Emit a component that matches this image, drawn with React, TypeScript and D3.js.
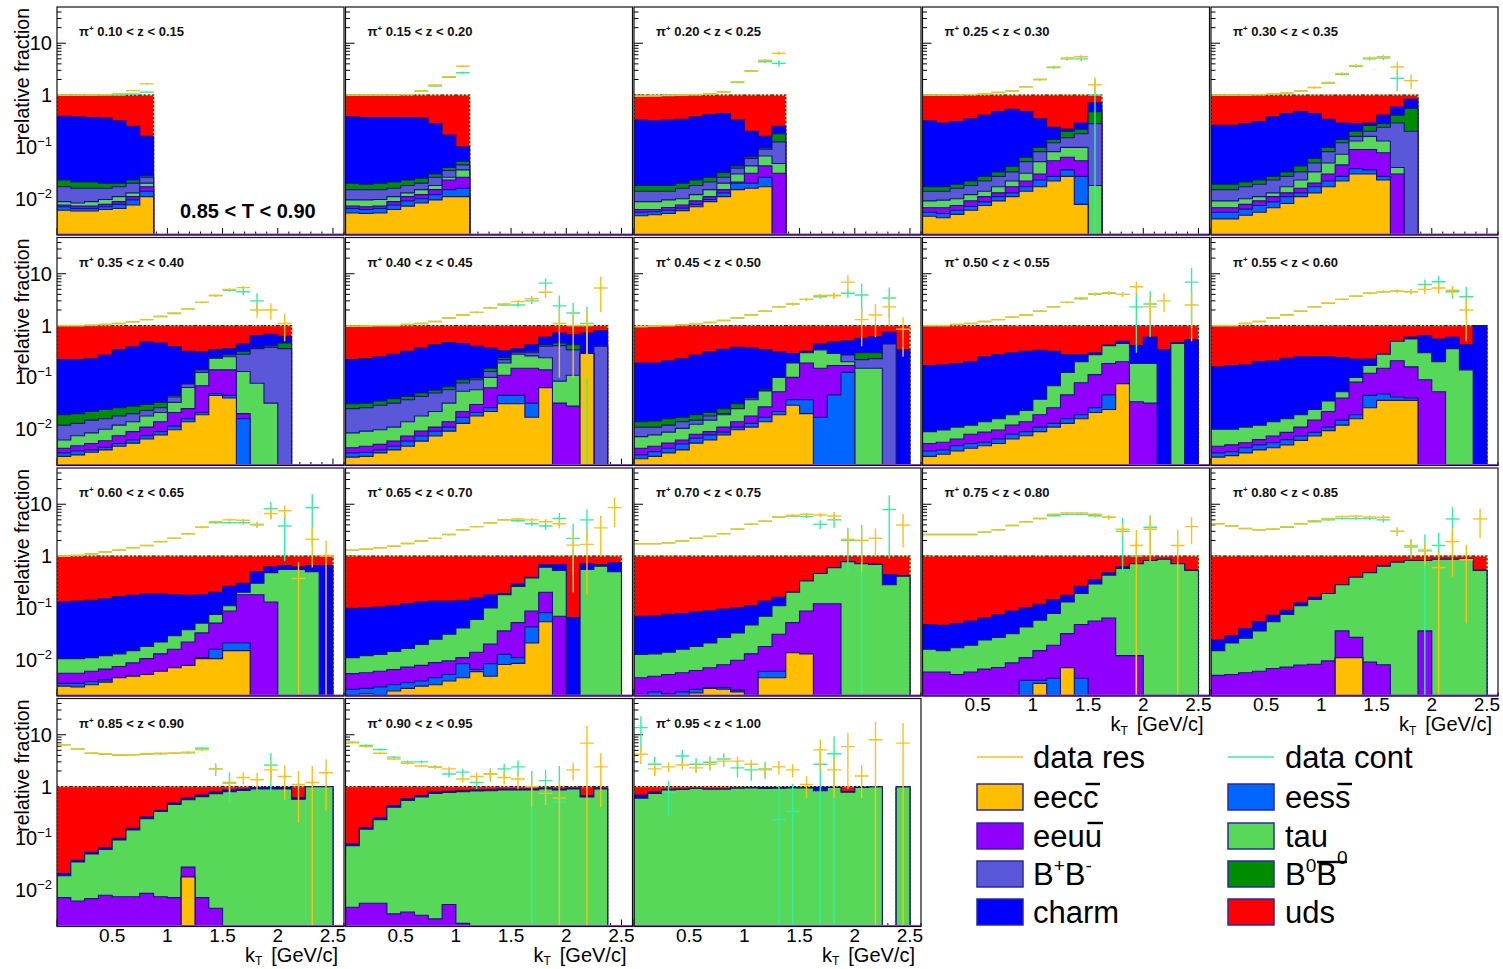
import React from 'react';
import * as d3 from 'd3';

// kT bins are 0.125 GeV/c wide, 20 bins from 0 to 2.5
const BIN = 0.125;

const zLabels = [
  '0.10 < z < 0.15', '0.15 < z < 0.20', '0.20 < z < 0.25', '0.25 < z < 0.30', '0.30 < z < 0.35',
  '0.35 < z < 0.40', '0.40 < z < 0.45', '0.45 < z < 0.50', '0.50 < z < 0.55', '0.55 < z < 0.60',
  '0.60 < z < 0.65', '0.65 < z < 0.70', '0.70 < z < 0.75', '0.75 < z < 0.80', '0.80 < z < 0.85',
  '0.85 < z < 0.90', '0.90 < z < 0.95', '0.95 < z < 1.00',
];

// stacked (cumulative) fraction reached by each sample, per z bin, per kT bin
const udsTop = [
  [1, 1, 1, 1, 1, 1, 1],
  [1, 1, 1, 1, 1, 1, 1, 1, 1],
  [1, 1, 1, 1, 1, 1, 1, 1, 1, 1, 1],
  [1, 1, 1, 1, 1, 1, 1, 1, 1, 1, 1, 1, 1],
  [1, 1, 1, 1, 1, 1, 1, 1, 1, 1, 1, 1, 1, 1, 1],
  [1, 1, 1, 1, 1, 1, 1, 1, 1, 1, 1, 1, 1, 1, 1, 1, 1],
  [1, 1, 1, 1, 1, 1, 1, 1, 1, 1, 1, 1, 1, 1, 1, 1, 1, 1, 1],
  [1, 1, 1, 1, 1, 1, 1, 1, 1, 1, 1, 1, 1, 1, 1, 1, 1, 1, 1, 1],
  [1, 1, 1, 1, 1, 1, 1, 1, 1, 1, 1, 1, 1, 1, 1, 1, 1, 1, 1, 1],
  [1, 1, 1, 1, 1, 1, 1, 1, 1, 1, 1, 1, 1, 1, 1, 1, 1, 1, 1, 1],
  [1, 1, 1, 1, 1, 1, 1, 1, 1, 1, 1, 1, 1, 1, 1, 1, 1, 1, 1, 1],
  [1, 1, 1, 1, 1, 1, 1, 1, 1, 1, 1, 1, 1, 1, 1, 1, 1, 1, 1, 1],
  [1, 1, 1, 1, 1, 1, 1, 1, 1, 1, 1, 1, 1, 1, 1, 1, 1, 1, 1, 1],
  [1, 1, 1, 1, 1, 1, 1, 1, 1, 1, 1, 1, 1, 1, 1, 1, 1, 1, 1, 1],
  [1, 1, 1, 1, 1, 1, 1, 1, 1, 1, 1, 1, 1, 1, 1, 1, 1, 1, 1, 1],
  [1, 1, 1, 1, 1, 1, 1, 1, 1, 1, 1, 1, 1, 1, 1, 1, 1, 1, 1, 1],
  [1, 1, 1, 1, 1, 1, 1, 1, 1, 1, 1, 1, 1, 1, 1, 1, 1, 1, 1],
  [1, 1, 1, 1, 1, 1, 1, 1, 1, 1, 1, 1, 1, 1, 1, 1, 1, 1, 0, 1],
];

const charmTop = [
  [0.39, 0.38, 0.37, 0.36, 0.32, 0.25, 0.16],
  [0.38, 0.37, 0.37, 0.37, 0.37, 0.36, 0.28, 0.17, 0.1],
  [0.33, 0.32, 0.33, 0.34, 0.38, 0.42, 0.44, 0.33, 0.2, 0.16, 0.25],
  [0.32, 0.29, 0.31, 0.35, 0.41, 0.48, 0.53, 0.48, 0.35, 0.24, 0.22, 0.29, 0.71],
  [0.26, 0.26, 0.28, 0.31, 0.38, 0.44, 0.48, 0.44, 0.34, 0.29, 0.28, 0.29, 0.41, 0.59, 0.83],
  [0.22, 0.22, 0.23, 0.27, 0.34, 0.39, 0.48, 0.46, 0.39, 0.32, 0.31, 0.34, 0.36, 0.44, 0.64, 0.68, 0.62],
  [0.22, 0.23, 0.25, 0.28, 0.32, 0.37, 0.43, 0.47, 0.45, 0.4, 0.37, 0.33, 0.36, 0.43, 0.6, 0.72, 0.67, 0.72, 0.8],
  [0.19, 0.19, 0.21, 0.23, 0.27, 0.31, 0.35, 0.38, 0.37, 0.34, 0.31, 0.29, 0.32, 0.44, 0.48, 0.51, 0.57, 0.61, 0.74, 0.34],
  [0.17, 0.175, 0.185, 0.2, 0.25, 0.275, 0.3, 0.32, 0.335, 0.32, 0.275, 0.275, 0.3, 0.42, 0.5, 0.41, 0.6, 0.34, 0.47, 0.53],
  [0.16, 0.17, 0.175, 0.2, 0.21, 0.235, 0.25, 0.25, 0.25, 0.24, 0.225, 0.225, 0.28, 0.43, 0.6, 0.64, 0.55, 0.6, 0.43, 1.0],
  [0.13, 0.135, 0.14, 0.15, 0.165, 0.175, 0.185, 0.185, 0.18, 0.175, 0.18, 0.2, 0.26, 0.3, 0.5, 0.62, 0.66, 0.62, 0.66, 0.66],
  [0.098, 0.1, 0.104, 0.11, 0.12, 0.13, 0.135, 0.135, 0.14, 0.155, 0.18, 0.19, 0.29, 0.39, 0.69, 0.69, 0.065, 0.71, 0.69, 0.74],
  [0.069, 0.07, 0.075, 0.078, 0.083, 0.088, 0.095, 0.1, 0.11, 0.135, 0.16, 0.2, 0.33, 0.46, 0.6, 0.78, 0.72, 0.7, 0.44, 0.42],
  [0.048, 0.046, 0.05, 0.056, 0.064, 0.074, 0.087, 0.1, 0.117, 0.143, 0.175, 0.26, 0.35, 0.48, 0.62, 0.71, 0.82, 0.87, 0.71, 0.53],
  [0.024, 0.029, 0.04, 0.054, 0.072, 0.09, 0.125, 0.16, 0.19, 0.28, 0.39, 0.48, 0.64, 0.76, 0.82, 0.82, 0.87, 0.87, 0.87, 0.53],
  [0.021, 0.038, 0.054, 0.066, 0.1, 0.157, 0.26, 0.35, 0.48, 0.6, 0.69, 0.78, 0.86, 0.9, 0.96, 0.96, 0.96, 0.61, 0.99, 0.99],
  [0.078, 0.16, 0.25, 0.43, 0.58, 0.67, 0.78, 0.81, 0.84, 0.86, 0.87, 0.9, 0.9, 0.9, 0.94, 0.9, 0.94, 0.67, 0.94],
  [0.69, 0.78, 0.88, 0.9, 0.93, 0.9, 0.9, 0.94, 0.95, 0.96, 0.96, 0.95, 0.95, 0.97, 0.97, 0.8, 0.97, 0.98, 0, 0.98],
];

const b0b0Top = [
  [0.023, 0.021, 0.021, 0.02, 0.02, 0.023, 0.028],
  [0.02, 0.019, 0.02, 0.021, 0.023, 0.025, 0.03, 0.04, 0.053],
  [0.018, 0.018, 0.018, 0.02, 0.023, 0.026, 0.032, 0.043, 0.065, 0.096, 0.18],
  [0.017, 0.017, 0.019, 0.022, 0.027, 0.033, 0.042, 0.063, 0.098, 0.14, 0.2, 0.22, 0.48],
  [0.019, 0.019, 0.021, 0.023, 0.027, 0.033, 0.043, 0.06, 0.098, 0.14, 0.2, 0.26, 0.28, 0.41, 0.55],
  [0.019, 0.02, 0.022, 0.024, 0.026, 0.028, 0.03, 0.033, 0.045, 0.075, 0.14, 0.24, 0.28, 0.32, 0.38, 0.41, 0.46],
  [0.031, 0.032, 0.035, 0.039, 0.043, 0.05, 0.057, 0.066, 0.09, 0.098, 0.15, 0.24, 0.31, 0.32, 0.43, 0.46, 0.43, 0.29, 0.4],
  [0.014, 0.0145, 0.016, 0.017, 0.019, 0.021, 0.025, 0.031, 0.041, 0.06, 0.1, 0.19, 0.3, 0.34, 0.29, 0.27, 0.3, 0.3, 0.44, 0],
  [], [], [], [], [], [], [], [], [], [],
];

const bpbmTop = [
  [0.017, 0.016, 0.016, 0.016, 0.017, 0.02, 0.026],
  [0.015, 0.015, 0.015, 0.016, 0.018, 0.02, 0.026, 0.035, 0.045],
  [0.014, 0.014, 0.014, 0.016, 0.018, 0.021, 0.026, 0.039, 0.06, 0.09, 0.125],
  [0.014, 0.014, 0.016, 0.018, 0.022, 0.027, 0.033, 0.052, 0.081, 0.12, 0.15, 0.18, 0.28],
  [0.015, 0.015, 0.017, 0.019, 0.023, 0.027, 0.033, 0.049, 0.081, 0.12, 0.16, 0.2, 0.24, 0.29, 0.2],
  [0.012, 0.013, 0.015, 0.016, 0.018, 0.02, 0.023, 0.026, 0.042, 0.075, 0.14, 0.24, 0.27, 0.28, 0.36, 0.38, 0.36],
  [0.025, 0.026, 0.029, 0.032, 0.037, 0.043, 0.05, 0.058, 0.078, 0.09, 0.13, 0.22, 0.3, 0.3, 0.4, 0.41, 0.34, 0.29, 0.4],
  [0.011, 0.011, 0.012, 0.014, 0.015, 0.018, 0.02, 0.025, 0.04, 0.057, 0.1, 0.19, 0.3, 0.34, 0.29, 0.27, 0.22, 0.23, 0.44, 0],
  [], [], [], [], [], [], [], [], [], [],
];

const tauTop = [
  [0.0088, 0.0083, 0.0088, 0.0097, 0.011, 0.013, 0.02],
  [0.0095, 0.0095, 0.0097, 0.011, 0.013, 0.015, 0.018, 0.026, 0.036],
  [0.0088, 0.0088, 0.0095, 0.01, 0.012, 0.015, 0.02, 0.03, 0.043, 0.067, 0.048],
  [0.0091, 0.0094, 0.01, 0.012, 0.014, 0.017, 0.022, 0.031, 0.052, 0.081, 0.098, 0.098, 0.018],
  [0.0091, 0.0091, 0.01, 0.011, 0.013, 0.017, 0.023, 0.033, 0.049, 0.072, 0.13, 0.16, 0.13, 0.04, 0],
  [0.0062, 0.0075, 0.0085, 0.01, 0.012, 0.014, 0.018, 0.021, 0.033, 0.064, 0.125, 0.235, 0.25, 0.13, 0.077, 0.032, 0],
  [0.0085, 0.0092, 0.0098, 0.011, 0.014, 0.018, 0.022, 0.032, 0.054, 0.058, 0.1, 0.19, 0.28, 0.26, 0.24, 0.085, 0.11, 0.29, 0],
  [0.0072, 0.0078, 0.0088, 0.0104, 0.0125, 0.015, 0.019, 0.025, 0.037, 0.055, 0.1, 0.19, 0.3, 0.34, 0.29, 0.2, 0.15, 0.15, 0, 0],
  [0.009, 0.0097, 0.011, 0.012, 0.014, 0.016, 0.019, 0.023, 0.038, 0.069, 0.125, 0.2, 0.275, 0.41, 0.45, 0.185, 0.185, 0, 0.45, 0],
  [0.01, 0.01, 0.011, 0.012, 0.014, 0.016, 0.019, 0.024, 0.035, 0.053, 0.1, 0.17, 0.28, 0.5, 0.55, 0.3, 0.2, 0.36, 0.14, 0],
  [0.0105, 0.0105, 0.011, 0.012, 0.013, 0.015, 0.018, 0.022, 0.029, 0.038, 0.051, 0.075, 0.11, 0.2, 0.3, 0.48, 0.55, 0.55, 0.5, 0],
  [0.011, 0.012, 0.0126, 0.0144, 0.0165, 0.0197, 0.025, 0.031, 0.041, 0.06, 0.1, 0.18, 0.26, 0.38, 0.61, 0.53, 0, 0.55, 0.64, 0.5],
  [0.0126, 0.013, 0.014, 0.016, 0.018, 0.021, 0.027, 0.033, 0.047, 0.069, 0.11, 0.2, 0.33, 0.46, 0.6, 0.78, 0.71, 0.69, 0.28, 0.41],
  [0.016, 0.015, 0.017, 0.019, 0.024, 0.027, 0.032, 0.043, 0.058, 0.078, 0.13, 0.19, 0.29, 0.43, 0.58, 0.71, 0.82, 0.87, 0.71, 0.53],
  [0.015, 0.021, 0.026, 0.036, 0.054, 0.075, 0.11, 0.145, 0.19, 0.28, 0.39, 0.48, 0.64, 0.76, 0.82, 0.82, 0.87, 0.87, 0.87, 0.53],
  [0.019, 0.035, 0.05, 0.061, 0.093, 0.146, 0.24, 0.33, 0.45, 0.56, 0.64, 0.73, 0.8, 0.84, 0.9, 0.9, 0.9, 0.57, 0.99, 0.99],
  [0.072, 0.15, 0.23, 0.4, 0.54, 0.63, 0.74, 0.77, 0.8, 0.82, 0.83, 0.86, 0.86, 0.86, 0.9, 0.86, 0.9, 0.63, 0.9],
  [0.6, 0.74, 0.86, 0.88, 0.92, 0.89, 0.89, 0.93, 0.94, 0.92, 0.93, 0.94, 0.94, 0.83, 0.96, 0.78, 0.96, 0.98, 0, 0.98],
];

const eeuuTop = [
  [0.0076, 0.0072, 0.0072, 0.0078, 0.0088, 0.011, 0.017],
  [0.0072, 0.007, 0.0072, 0.0088, 0.011, 0.012, 0.015, 0.023, 0.026],
  [0.0062, 0.0062, 0.0068, 0.0076, 0.0091, 0.011, 0.015, 0.021, 0.031, 0.043, 0.031],
  [0.0067, 0.0067, 0.0074, 0.0091, 0.011, 0.013, 0.017, 0.022, 0.03, 0.054, 0.063, 0.054, 0],
  [0.0067, 0.0067, 0.0078, 0.0091, 0.011, 0.013, 0.016, 0.02, 0.03, 0.045, 0.089, 0.089, 0.077, 0.03, 0],
  [0.0043, 0.0048, 0.0053, 0.006, 0.0075, 0.009, 0.011, 0.014, 0.021, 0.025, 0.069, 0.14, 0.14, 0.02, 0, 0, 0],
  [0.0044, 0.0047, 0.0051, 0.0059, 0.0074, 0.0092, 0.011, 0.014, 0.022, 0.03, 0.063, 0.11, 0.15, 0.15, 0.14, 0.032, 0.028, 0.29, 0],
  [0.0043, 0.0047, 0.0054, 0.0062, 0.008, 0.009, 0.011, 0.014, 0.018, 0.027, 0.053, 0.1, 0.19, 0.15, 0.17, 0.17, 0, 0, 0, 0],
  [0.0053, 0.0056, 0.0065, 0.008, 0.0088, 0.0097, 0.012, 0.014, 0.019, 0.026, 0.046, 0.079, 0.113, 0.185, 0.2, 0.034, 0.032, 0, 0, 0],
  [0.0047, 0.005, 0.0055, 0.0063, 0.0074, 0.0087, 0.011, 0.015, 0.022, 0.04, 0.081, 0.12, 0.15, 0.21, 0.16, 0.09, 0.053, 0, 0, 0],
  [0.0055, 0.0055, 0.006, 0.0066, 0.0074, 0.0087, 0.0105, 0.013, 0.016, 0.022, 0.033, 0.051, 0.087, 0.18, 0.18, 0.13, 0, 0, 0, 0],
  [0.0054, 0.0056, 0.006, 0.0065, 0.0072, 0.0078, 0.0088, 0.0095, 0.011, 0.014, 0.02, 0.036, 0.052, 0.087, 0.2, 0.069, 0, 0, 0, 0],
  [0.0045, 0.0048, 0.0052, 0.0056, 0.0062, 0.007, 0.008, 0.0098, 0.013, 0.018, 0.031, 0.052, 0.087, 0.12, 0.12, 0, 0, 0, 0, 0],
  [0.0058, 0.0058, 0.0052, 0.0058, 0.0066, 0.0071, 0.0087, 0.011, 0.015, 0.019, 0.032, 0.048, 0.056, 0.064, 0.012, 0.012, 0, 0, 0, 0],
  [0.005, 0.0052, 0.0056, 0.006, 0.0068, 0.0072, 0.0079, 0.0082, 0.0095, 0.036, 0.027, 0.009, 0.008, 0, 0, 0.036, 0, 0, 0, 0],
  [0.0072, 0.0062, 0.0069, 0.008, 0.0075, 0.0075, 0.0087, 0.0075, 0.0072, 0.028, 0.0072, 0.0045, 0, 0, 0, 0, 0, 0, 0, 0],
  [0.0047, 0.0056, 0.0056, 0.0035, 0.0038, 0.0033, 0.0028, 0.0053, 0.0023, 0, 0, 0, 0, 0, 0, 0, 0, 0, 0],
  [],
];

const eessTop = [
  [0.007, 0.0065, 0.0065, 0.007, 0.0078, 0.0095, 0.014],
  [0.0065, 0.0062, 0.0065, 0.0076, 0.0091, 0.01, 0.012, 0.015, 0.016],
  [0.0055, 0.0056, 0.006, 0.0066, 0.0078, 0.0097, 0.013, 0.02, 0.02, 0.026, 0],
  [0.0055, 0.0052, 0.006, 0.0071, 0.0087, 0.011, 0.013, 0.017, 0.023, 0.027, 0.036, 0.027, 0],
  [0.0055, 0.0055, 0.0063, 0.0074, 0.0087, 0.011, 0.013, 0.017, 0.022, 0.027, 0.038, 0.036, 0.027, 0, 0],
  [0.0035, 0.0038, 0.004, 0.0045, 0.0053, 0.0062, 0.0075, 0.009, 0.0115, 0.016, 0.021, 0.049, 0.045, 0.016, 0, 0, 0],
  [0.0035, 0.0036, 0.004, 0.0047, 0.0059, 0.0074, 0.0092, 0.011, 0.017, 0.021, 0.026, 0.045, 0.045, 0.032, 0.063, 0, 0, 0.29, 0],
  [0.0032, 0.0037, 0.0043, 0.0052, 0.0067, 0.0078, 0.0088, 0.011, 0.013, 0.017, 0.022, 0.037, 0.037, 0.017, 0.046, 0.125, 0, 0, 0, 0],
  [0.0038, 0.004, 0.0048, 0.0053, 0.0056, 0.0065, 0.008, 0.009, 0.011, 0.013, 0.016, 0.019, 0.026, 0.046, 0.076, 0, 0, 0, 0, 0],
  [0.0035, 0.0037, 0.0044, 0.005, 0.0055, 0.0063, 0.0074, 0.0087, 0.011, 0.015, 0.019, 0.045, 0.048, 0.042, 0.04, 0, 0, 0, 0, 0],
  [0.0035, 0.0035, 0.0038, 0.0041, 0.0045, 0.0048, 0.0052, 0.0058, 0.0066, 0.0074, 0.011, 0.016, 0.021, 0.021, 0, 0, 0, 0, 0, 0],
  [0.0027, 0.0028, 0.003, 0.0033, 0.0036, 0.0039, 0.0045, 0.0052, 0.0084, 0.0065, 0.0084, 0.0127, 0.011, 0.043, 0.081, 0, 0, 0, 0, 0],
  [0, 0.0024, 0.0022, 0.0024, 0.0027, 0.0029, 0.0029, 0.0026, 0, 0.006, 0.006, 0.0137, 0.013, 0, 0, 0, 0, 0, 0, 0],
  [0, 0, 0, 0, 0, 0, 0, 0.004, 0.004, 0.0044, 0.007, 0.0044, 0, 0, 0, 0, 0, 0, 0, 0],
  [0, 0, 0, 0, 0, 0, 0, 0, 0, 0.011, 0.011, 0],
  [0, 0, 0, 0, 0, 0, 0, 0, 0, 0.018],
  [],
  [],
];

const eeccTop = [
  [0.006, 0.0058, 0.0058, 0.0062, 0.0065, 0.0076, 0.011],
  [0.0053, 0.0052, 0.0053, 0.0062, 0.0072, 0.0083, 0.0095, 0.011, 0.011],
  [0.0047, 0.0049, 0.0052, 0.0059, 0.007, 0.0088, 0.011, 0.015, 0.016, 0.017, 0],
  [0.0046, 0.0043, 0.005, 0.006, 0.0074, 0.0091, 0.011, 0.014, 0.017, 0.022, 0.027, 0.0078, 0],
  [0.0041, 0.0041, 0.0048, 0.0055, 0.0067, 0.0081, 0.011, 0.013, 0.017, 0.022, 0.03, 0.03, 0.023, 0, 0],
  [0.003, 0.0032, 0.0036, 0.004, 0.0047, 0.0054, 0.0065, 0.0078, 0.0098, 0.014, 0.019, 0.045, 0.04, 0, 0, 0, 0],
  [0.0029, 0.003, 0.0035, 0.004, 0.0047, 0.0059, 0.0074, 0.0092, 0.013, 0.018, 0.022, 0.031, 0.031, 0.017, 0.063, 0, 0, 0.29, 0],
  [0.0027, 0.003, 0.0035, 0.004, 0.0054, 0.0062, 0.0078, 0.0098, 0.011, 0.014, 0.019, 0.029, 0.02, 0, 0, 0, 0, 0, 0, 0],
  [0.003, 0.0033, 0.0038, 0.0043, 0.0048, 0.0053, 0.0065, 0.0075, 0.009, 0.011, 0.013, 0.016, 0.021, 0.024, 0.076, 0, 0, 0, 0, 0],
  [0.0029, 0.0031, 0.0035, 0.004, 0.0044, 0.005, 0.0061, 0.0074, 0.0094, 0.012, 0.016, 0.026, 0.036, 0.036, 0.036, 0, 0, 0, 0, 0],
  [0.0031, 0.003, 0.0033, 0.0037, 0.0045, 0.0048, 0.0052, 0.006, 0.007, 0.0078, 0.0105, 0.0105, 0.015, 0.015, 0, 0, 0, 0, 0, 0],
  [0.0021, 0.0022, 0.0021, 0.0025, 0.0028, 0.0031, 0.0033, 0.0039, 0.0045, 0.0059, 0.0048, 0.0081, 0.0085, 0.021, 0.054, 0, 0, 0, 0, 0],
  [0, 0, 0, 0, 0.0023, 0.0028, 0.0027, 0.0024, 0, 0.0045, 0.0045, 0.0137, 0.013, 0, 0, 0, 0, 0, 0, 0],
  [0, 0, 0, 0, 0, 0, 0, 0, 0.0035, 0, 0.007, 0, 0, 0, 0, 0, 0, 0, 0, 0],
  [0, 0, 0, 0, 0, 0, 0, 0, 0, 0.011, 0.011, 0],
  [0, 0, 0, 0, 0, 0, 0, 0, 0, 0.018],
  [],
  [],
];

// data points (ratio) with errors
const resVal = [
  [1.0, 1.0, 1.0, 1.02, 1.06, 1.22, 1.65],
  [1.0, 1.0, 1.0, 1.0, 1.02, 1.2, 1.56, 2.26, 3.6],
  [0.95, 0.96, 0.98, 1.0, 1.02, 1.05, 1.16, 1.8, 2.95, 4.7, 6.4],
  [1.0, 1.0, 1.0, 1.02, 1.05, 1.12, 1.2, 1.45, 2.0, 3.5, 5.2, 5.5, 1.58],
  [1.0, 1.0, 1.0, 1.02, 1.05, 1.1, 1.2, 1.4, 1.75, 2.6, 3.7, 5.2, 5.5, 3.5, 1.9],
  [1.0, 1.0, 1.02, 1.05, 1.1, 1.18, 1.3, 1.5, 1.75, 2.1, 2.8, 3.8, 5.0, 5.4, 2.0, 2.0, 1.1],
  [0.97, 0.98, 1.0, 1.0, 1.05, 1.1, 1.2, 1.4, 1.6, 1.8, 2.2, 2.6, 2.9, 3.3, 4.4, 1.1, 1.0, 1.0, 5.3],
  [0.96, 0.98, 1.0, 1.03, 1.08, 1.15, 1.25, 1.4, 1.6, 1.9, 2.3, 2.6, 3.2, 3.8, 3.8, 6.9, 1.3, 1.6, 2.3, 0.85],
  [1.0, 1.0, 1.05, 1.1, 1.2, 1.3, 1.45, 1.6, 1.9, 2.3, 2.8, 3.4, 4.1, 4.3, 4.0, 5.6, 2.3, 3.0, 0, 2.5],
  [1.0, 1.0, 1.1, 1.2, 1.4, 1.6, 1.9, 2.3, 2.7, 3.2, 3.7, 4.2, 4.5, 4.6, 4.5, 5.0, 5.3, 4.8, 2.0, 0],
  [1.0, 1.03, 1.1, 1.2, 1.3, 1.45, 1.6, 1.9, 2.2, 2.7, 3.6, 4.6, 5.0, 4.9, 4.1, 6.6, 7.5, 0.37, 2.1, 1.0],
  [1.3, 1.35, 1.45, 1.55, 1.75, 1.95, 2.2, 2.6, 3.2, 3.7, 4.4, 5.0, 5.2, 5.0, 4.6, 4.2, 1.63, 1.68, 3.5, 8.6],
  [1.73, 1.73, 1.8, 1.95, 2.2, 2.4, 2.7, 3.3, 4.1, 4.7, 5.7, 6.1, 6.4, 6.2, 5.9, 2.1, 2.0, 2.2, 0, 3.96],
  [2.6, 2.6, 2.6, 2.6, 2.9, 3.2, 3.9, 4.6, 5.3, 6.4, 6.8, 6.8, 6.4, 5.6, 3.3, 1.6, 3.3, 0, 1.6, 3.7],
  [4.2, 3.8, 3.4, 3.2, 3.3, 3.7, 4.2, 4.8, 5.3, 5.8, 5.9, 5.7, 5.6, 3.0, 1.6, 1.25, 0.6, 1.9, 0.85, 5.2],
  [6.4, 5.3, 4.4, 4.3, 4.1, 4.1, 4.3, 4.4, 4.4, 4.6, 5.1, 2.2, 1.16, 1.5, 1.35, 2.1, 1.56, 1.1, 1.2, 1.85],
  [7.0, 5.9, 4.4, 3.4, 2.8, 2.5, 2.36, 2.2, 1.4, 1.56, 1.75, 1.5, 1.4, 1.0, 0.74, 0.6, 2.1, 6.9, 2.4],
  [4.2, 2.2, 2.4, 2.6, 2.3, 2.7, 3.1, 3.1, 2.7, 2.1, 2.4, 2.1, 1.1, 5.1, 2.1, 5.9, 1.6, 8.0, 0, 6.9],
];

const resErr = [
  [0.01, 0.01, 0.01, 0.01, 0.02, 0.03, 0.05],
  [0.01, 0.01, 0.01, 0.01, 0.02, 0.03, 0.05, 0.08, 0.15],
  [0.01, 0.01, 0.01, 0.01, 0.02, 0.02, 0.04, 0.06, 0.12, 0.25, 0.45],
  [0.01, 0.01, 0.01, 0.01, 0.02, 0.02, 0.03, 0.05, 0.08, 0.2, 0.35, 0.5, 0.6],
  [0.01, 0.01, 0.01, 0.01, 0.02, 0.02, 0.03, 0.05, 0.07, 0.12, 0.25, 0.4, 0.5, 0.9, 0.6],
  [0.01, 0.01, 0.01, 0.02, 0.02, 0.02, 0.03, 0.04, 0.05, 0.07, 0.1, 0.15, 0.25, 0.4, 0.6, 0.7, 0.6],
  [0.01, 0.01, 0.01, 0.02, 0.02, 0.02, 0.03, 0.04, 0.05, 0.07, 0.1, 0.12, 0.2, 0.4, 1.0, 1.0, 0.9, 0.9, 3.5],
  [0.01, 0.01, 0.01, 0.02, 0.02, 0.03, 0.03, 0.04, 0.05, 0.07, 0.1, 0.15, 0.2, 0.3, 0.5, 2.5, 0.9, 1.0, 1.3, 0.6],
  [0.01, 0.01, 0.02, 0.02, 0.02, 0.03, 0.04, 0.05, 0.06, 0.08, 0.1, 0.15, 0.25, 0.3, 0.4, 1.5, 1.2, 1.2, 0, 2.0],
  [0.01, 0.01, 0.02, 0.02, 0.03, 0.03, 0.04, 0.05, 0.07, 0.09, 0.12, 0.18, 0.25, 0.35, 0.5, 1.0, 1.2, 1.0, 1.5, 0],
  [0.02, 0.02, 0.02, 0.02, 0.03, 0.03, 0.04, 0.05, 0.07, 0.1, 0.15, 0.2, 0.25, 0.35, 0.5, 1.5, 2.0, 0.4, 1.5, 1.0],
  [0.02, 0.02, 0.02, 0.03, 0.03, 0.04, 0.05, 0.07, 0.1, 0.12, 0.15, 0.2, 0.3, 0.4, 0.6, 0.8, 1.2, 1.5, 2.5, 5.0],
  [0.02, 0.02, 0.03, 0.03, 0.04, 0.05, 0.06, 0.08, 0.1, 0.15, 0.2, 0.25, 0.35, 0.5, 1.2, 1.0, 1.5, 1.2, 0, 2.5],
  [0.04, 0.04, 0.04, 0.05, 0.06, 0.08, 0.1, 0.12, 0.15, 0.2, 0.25, 0.3, 0.4, 0.5, 0.8, 1.6, 2.5, 0, 1.6, 2.0],
  [0.08, 0.08, 0.08, 0.08, 0.1, 0.1, 0.12, 0.15, 0.2, 0.25, 0.3, 0.4, 0.6, 0.6, 0.5, 0.6, 0.6, 1.5, 0.8, 3.0],
  [0.15, 0.12, 0.1, 0.1, 0.1, 0.1, 0.12, 0.12, 0.15, 0.2, 0.3, 0.4, 0.4, 0.4, 0.5, 0.8, 1.0, 0.9, 1.3, 1.5],
  [0.25, 0.2, 0.2, 0.15, 0.15, 0.15, 0.15, 0.2, 0.2, 0.3, 0.4, 0.4, 0.5, 0.6, 0.3, 0.7, 0.8, 8.0, 2.0],
  [1.5, 0.6, 0.5, 0.5, 0.5, 0.6, 0.6, 0.7, 0.6, 0.5, 0.7, 0.6, 0.5, 3.0, 1.5, 5.0, 1.0, 10, 0, 10],
];

const contVal = [
  [1.0, 1.0, 1.0, 1.0, 1.0, 1.05, 1.14],
  [1.0, 1.0, 1.0, 1.0, 1.02, 1.2, 1.5, 2.2, 2.7],
  [0.96, 0.97, 1.0, 1.0, 1.02, 1.05, 1.15, 1.75, 2.9, 4.4, 4.1],
  [1.0, 1.0, 1.0, 1.02, 1.05, 1.12, 1.2, 1.45, 2.0, 3.4, 5.0, 5.0, 1.0],
  [1.0, 1.0, 1.0, 1.02, 1.05, 1.1, 1.2, 1.4, 1.7, 2.5, 3.6, 5.0, 5.2, 2.1, 0],
  [1.0, 1.0, 1.02, 1.05, 1.1, 1.18, 1.3, 1.5, 1.7, 2.1, 2.8, 3.8, 4.8, 4.5, 3.0, 0, 0],
  [0.97, 0.98, 1.0, 1.0, 1.05, 1.1, 1.2, 1.4, 1.6, 1.8, 2.2, 2.5, 2.5, 3.0, 6.6, 2.4, 1.75, 1.1, 0],
  [0.96, 0.98, 1.0, 1.03, 1.08, 1.15, 1.25, 1.4, 1.6, 1.9, 2.3, 2.6, 3.2, 3.6, 3.8, 4.2, 3.9, 0, 3.4, 0],
  [1.0, 1.0, 1.05, 1.1, 1.2, 1.3, 1.45, 1.6, 1.9, 2.3, 2.8, 3.3, 4.0, 4.2, 4.0, 2.3, 2.6, 0, 0, 6.9],
  [1.0, 1.0, 1.1, 1.2, 1.4, 1.6, 1.9, 2.3, 2.7, 3.2, 3.7, 4.2, 4.5, 4.6, 4.5, 6.2, 7.0, 4.5, 3.6, 0],
  [1.0, 1.03, 1.1, 1.2, 1.3, 1.45, 1.6, 1.9, 2.2, 2.7, 3.6, 4.4, 4.4, 4.4, 4.0, 8.2, 3.8, 0, 8.6, 0],
  [1.3, 1.35, 1.45, 1.55, 1.75, 1.95, 2.2, 2.6, 3.2, 3.7, 4.4, 5.0, 4.8, 4.2, 3.8, 5.3, 2.2, 5.0, 0, 0],
  [1.73, 1.73, 1.8, 1.95, 2.2, 2.4, 2.7, 3.3, 4.1, 4.7, 5.6, 5.9, 5.8, 4.1, 5.0, 2.0, 2.0, 0, 7.9, 0],
  [2.6, 2.6, 2.6, 2.6, 2.9, 3.2, 3.9, 4.6, 5.3, 6.0, 6.4, 6.4, 6.0, 5.6, 3.0, 1.0, 3.6, 0, 0, 0],
  [4.2, 3.8, 3.4, 3.2, 3.3, 3.6, 4.2, 4.6, 5.0, 5.3, 5.3, 5.3, 5.0, 3.0, 1.5, 1.3, 1.6, 5.2, 0, 0],
  [6.4, 5.3, 4.4, 4.2, 4.0, 4.1, 4.2, 4.3, 4.4, 4.5, 5.5, 2.2, 1.2, 0, 0, 2.6, 0, 0, 0, 0],
  [7.2, 6.2, 5.2, 3.7, 3.0, 3.0, 2.4, 1.75, 1.9, 1.2, 1.75, 2.2, 2.4, 1.0, 1.3, 0.5, 0, 0, 0],
  [13.7, 2.7, 0.78, 3.9, 2.7, 2.95, 3.4, 2.3, 2.1, 2.2, 0.23, 0.33, 0, 2.7, 4.3, 0, 0, 0, 0, 0],
];

const contErr = [
  [0.01, 0.01, 0.01, 0.01, 0.02, 0.03, 0.05],
  [0.01, 0.01, 0.01, 0.01, 0.02, 0.03, 0.05, 0.08, 0.15],
  [0.01, 0.01, 0.01, 0.01, 0.02, 0.02, 0.04, 0.06, 0.12, 0.3, 0.6],
  [0.01, 0.01, 0.01, 0.01, 0.02, 0.02, 0.03, 0.05, 0.08, 0.2, 0.35, 0.5, 1.0],
  [0.01, 0.01, 0.01, 0.01, 0.02, 0.02, 0.03, 0.05, 0.07, 0.12, 0.25, 0.4, 0.5, 0.9, 0],
  [0.01, 0.01, 0.01, 0.02, 0.02, 0.02, 0.03, 0.04, 0.05, 0.07, 0.1, 0.15, 0.3, 0.7, 1.2, 0, 0],
  [0.01, 0.01, 0.01, 0.02, 0.02, 0.02, 0.03, 0.04, 0.05, 0.07, 0.1, 0.12, 0.25, 0.4, 1.5, 1.4, 1.0, 1.2, 0],
  [0.01, 0.01, 0.01, 0.02, 0.02, 0.03, 0.03, 0.04, 0.05, 0.07, 0.1, 0.15, 0.2, 0.3, 0.5, 0.8, 2.5, 0, 2.0, 0],
  [0.01, 0.01, 0.02, 0.02, 0.02, 0.03, 0.04, 0.05, 0.06, 0.08, 0.1, 0.15, 0.25, 0.3, 0.4, 2.0, 2.0, 0, 0, 6.0],
  [0.01, 0.01, 0.02, 0.02, 0.03, 0.03, 0.04, 0.05, 0.07, 0.09, 0.12, 0.18, 0.25, 0.35, 0.5, 1.5, 2.0, 1.2, 2.0, 0],
  [0.02, 0.02, 0.02, 0.02, 0.03, 0.03, 0.04, 0.05, 0.07, 0.1, 0.15, 0.2, 0.25, 0.35, 0.5, 3.0, 3.0, 0, 7.0, 0],
  [0.02, 0.02, 0.02, 0.03, 0.03, 0.04, 0.05, 0.07, 0.1, 0.12, 0.15, 0.2, 0.3, 0.4, 0.6, 1.5, 2.0, 3.0, 0, 0],
  [0.02, 0.02, 0.03, 0.03, 0.04, 0.05, 0.06, 0.08, 0.1, 0.15, 0.2, 0.25, 0.35, 0.8, 1.5, 1.5, 2.0, 0, 7.0, 0],
  [0.04, 0.04, 0.04, 0.05, 0.06, 0.08, 0.1, 0.12, 0.15, 0.2, 0.25, 0.3, 0.4, 0.5, 2.5, 1.0, 2.5, 0, 0, 0],
  [0.08, 0.08, 0.08, 0.08, 0.1, 0.1, 0.12, 0.15, 0.2, 0.25, 0.3, 0.4, 0.6, 0.5, 0.6, 1.3, 1.2, 3.5, 0, 0],
  [0.15, 0.12, 0.1, 0.1, 0.1, 0.1, 0.12, 0.12, 0.15, 0.2, 0.3, 0.6, 0.7, 0, 0, 1.8, 0, 0, 0, 0],
  [0.3, 0.25, 0.25, 0.2, 0.2, 0.2, 0.2, 0.25, 0.3, 0.3, 0.5, 0.6, 0.8, 1.0, 0.8, 2.0, 0, 0, 0],
  [9, 1.0, 0.5, 1.2, 0.8, 0.9, 1.0, 0.8, 0.8, 0.8, 0.8, 0.8, 0, 3, 5, 0, 0, 0, 0, 0],
];

const yTickVals = [0.01, 0.1, 1, 10];
const xTickVals = [0.5, 1, 1.5, 2, 2.5];
const xTickLabels = ['0.5', '1', '1.5', '2', '2.5'];

const FONT = "'Liberation Sans', Arial, Helvetica, sans-serif";
const W = 287;
const H = 228;
const colX = [57, 345.5, 634, 922.5, 1211];
const rowY = [7, 237.5, 468, 698.5];
const NAVY = '#15157c';
const RES = '#ffbf1a';
const CONT = '#33eea0';

const layers = [
  { key: 'uds', data: udsTop, color: '#ff0000' },
  { key: 'charm', data: charmTop, color: '#0000ff' },
  { key: 'b0b0', data: b0b0Top, color: '#008c00' },
  { key: 'bpbm', data: bpbmTop, color: '#5a58d8' },
  { key: 'tau', data: tauTop, color: '#58d858' },
  { key: 'eeuu', data: eeuuTop, color: '#8f00ff' },
  { key: 'eess', data: eessTop, color: '#0066ff' },
  { key: 'eecc', data: eeccTop, color: '#ffbe00' },
];

function stepPath(vals: number[], x: any, y: any) {
  let d = '';
  let i = 0;
  while (i < vals.length) {
    if (!(vals[i] > 0)) { i++; continue; }
    let j = i;
    let seg = `M${x(i * BIN)},${H}`;
    while (j < vals.length && vals[j] > 0) {
      const yy = y(vals[j]);
      seg += `L${x(j * BIN)},${yy}L${x((j + 1) * BIN)},${yy}`;
      j++;
    }
    seg += `L${x(j * BIN)},${H}`;
    d += seg;
    i = j;
  }
  return d;
}

function Panel({ p }: { p: number }) {
  const col = p % 5;
  const row = Math.floor(p / 5);
  const left = colX[col];
  const top = rowY[row];
  const x = d3.scaleLinear().domain([0, 2.6]).range([0, W]);
  const y = d3.scaleLog().domain([0.002, 50]).range([H, 0]).clamp(true);

  const minor: number[] = [];
  [0.001, 0.01, 0.1, 1, 10].forEach((b) => {
    for (let k = 2; k <= 9; k++) {
      const v = k * b;
      if (v > 0.002 && v < 50) minor.push(v);
    }
  });
  const xt: number[] = d3.range(0, 27).map((i) => i / 10);

  const crosses = (vals: number[], errs: number[], color: string, tag: string) =>
    vals.map((v, i) => {
      if (!(v > 0)) return null;
      const e = errs[i] || 0;
      const yv = y(v);
      const lo = v - e > 0.002 ? y(v - e) : H;
      const cx = x((i + 0.5) * BIN);
      return (
        <g key={tag + i}>
          <line x1={x(i * BIN)} x2={x((i + 1) * BIN)} y1={yv} y2={yv} stroke={color} strokeWidth={1.4} />
          <line x1={cx} x2={cx} y1={y(v + e)} y2={lo} stroke={color} strokeWidth={1.4} />
        </g>
      );
    });

  const showX = p + 5 >= 18;
  const clipId = `clip${p}`;

  return (
    <g transform={`translate(${left},${top})`}>
      <defs>
        <clipPath id={clipId}>
          <rect x={0} y={0} width={W} height={H} />
        </clipPath>
      </defs>
      <rect x={0} y={0} width={W} height={H} fill="#fff" />
      {yTickVals.map((v) => (
        <line key={'ym' + v} x1={0} x2={9} y1={y(v)} y2={y(v)} stroke="#000" strokeWidth={1} />
      ))}
      {minor.map((v) => (
        <line key={'yn' + v} x1={0} x2={4.5} y1={y(v)} y2={y(v)} stroke="#000" strokeWidth={1} />
      ))}
      {xt.map((v, i) => (
        <line key={'xt' + i} x1={x(v)} x2={x(v)} y1={H} y2={H - (i % 5 === 0 ? 7 : 3.5)} stroke="#000" strokeWidth={1} />
      ))}
      <g clipPath={`url(#${clipId})`}>
        {layers.map((L) => {
          const vals = L.data[p] || [];
          const d = stepPath(vals, x, y);
          if (!d) return null;
          return (
            <g key={L.key}>
              <path d={d + 'Z'} fill={L.color} stroke="none" />
              {L.key === 'uds' ? (
                <g>
                  <path d={d} fill="none" stroke="#f2c200" strokeWidth={1.3} />
                  <path d={d} fill="none" stroke={NAVY} strokeWidth={1.3} strokeDasharray="2,2" />
                </g>
              ) : (
                <path d={d} fill="none" stroke={NAVY} strokeWidth={1.1} />
              )}
            </g>
          );
        })}
        {crosses(contVal[p], contErr[p], CONT, 'c')}
        {crosses(resVal[p], resErr[p], RES, 'r')}
      </g>
      <line x1={0} x2={W} y1={H - 0.5} y2={H - 0.5} stroke="#9a3cff" strokeWidth={2} />
      <rect x={0} y={0} width={W} height={H} fill="none" stroke="#111" strokeWidth={1.2} />
      <text x={22} y={29} fontFamily={FONT} fontSize={13} fontWeight="bold" fill="#111">
        π<tspan dy={-5} fontSize={8}>+</tspan>
        <tspan dy={5}>{' ' + zLabels[p]}</tspan>
      </text>
      {p === 0 && (
        <text x={123} y={211} fontFamily={FONT} fontSize={20} fontWeight="bold" fill="#000">
          0.85 &lt; T &lt; 0.90
        </text>
      )}
      {col === 0 &&
        yTickVals.map((v) => {
          const yy = y(v) + 7;
          if (v === 10) return <text key={'yl' + v} x={-5} y={yy} textAnchor="end" fontFamily={FONT} fontSize={20}>10</text>;
          if (v === 1) return <text key={'yl' + v} x={-5} y={yy} textAnchor="end" fontFamily={FONT} fontSize={20}>1</text>;
          return (
            <text key={'yl' + v} x={-5} y={yy} textAnchor="end" fontFamily={FONT} fontSize={20}>
              10<tspan dy={-8} fontSize={13}>{v === 0.1 ? '−1' : '−2'}</tspan>
            </text>
          );
        })}
      {col === 0 && (
        <text transform={`translate(${29 - left},1) rotate(-90)`} textAnchor="end" fontFamily={FONT} fontSize={19.5}>
          relative fraction
        </text>
      )}
      {showX &&
        xTickVals.map((v, i) => (
          <text key={'xl' + i} x={x(v)} y={H + 15} textAnchor="middle" fontFamily={FONT} fontSize={19}>
            {xTickLabels[i]}
          </text>
        ))}
      {showX && (
        <text x={W - 6} y={H + 35} textAnchor="end" fontFamily={FONT} fontSize={20}>
          k<tspan dy={3.5} fontSize={12}>T</tspan>
          <tspan dy={-3.5} dx={9}>[GeV/c]</tspan>
        </text>
      )}
    </g>
  );
}

function Legend() {
  const fs = 31;
  const box = (x: number, cy: number, color: string) => (
    <rect x={x} y={cy - 13} width={46} height={26} fill={color} stroke="#2a2aa0" strokeWidth={1.5} />
  );
  const t = (x: number, cy: number, content: any) => (
    <text x={x} y={cy + 11} fontFamily={FONT} fontSize={fs} fill="#000">{content}</text>
  );
  const c1 = 977, c2 = 1228, t1 = 1033, t2 = 1285;
  const rows = [757, 797, 836, 874, 912];
  return (
    <g>
      <line x1={c1} x2={c1 + 46} y1={rows[0]} y2={rows[0]} stroke={RES} strokeWidth={1.6} />
      {t(t1, rows[0], 'data res')}
      <line x1={c2} x2={c2 + 46} y1={rows[0]} y2={rows[0]} stroke={CONT} strokeWidth={1.6} />
      {t(t2, rows[0], 'data cont')}

      {box(c1, rows[1], '#ffbe00')}
      {t(t1, rows[1], 'eecc')}
      <line x1={t1 + 52.5} x2={t1 + 67} y1={rows[1] - 13} y2={rows[1] - 13} stroke="#000" strokeWidth={2.4} />
      {box(c2, rows[1], '#0066ff')}
      {t(t2, rows[1], 'eess')}
      <line x1={t2 + 52.5} x2={t2 + 67} y1={rows[1] - 13} y2={rows[1] - 13} stroke="#000" strokeWidth={2.4} />

      {box(c1, rows[2], '#8f00ff')}
      {t(t1, rows[2], 'eeuu')}
      <line x1={t1 + 54.5} x2={t1 + 70} y1={rows[2] - 13} y2={rows[2] - 13} stroke="#000" strokeWidth={2.4} />
      {box(c2, rows[2], '#58d858')}
      {t(t2, rows[2], 'tau')}

      {box(c1, rows[3], '#5a58d8')}
      <text x={t1} y={rows[3] + 11} fontFamily={FONT} fontSize={fs}>
        B<tspan dy={-13} fontSize={19}>+</tspan>
        <tspan dy={13}>B</tspan>
        <tspan dy={-13} fontSize={19}>-</tspan>
      </text>
      {box(c2, rows[3], '#008c00')}
      <text x={t2} y={rows[3] + 11} fontFamily={FONT} fontSize={fs}>
        B<tspan dy={-13} fontSize={19}>0</tspan>
        <tspan dy={13}>B</tspan>
        <tspan dy={-21} fontSize={19}>0</tspan>
      </text>
      <line x1={t2 + 32} x2={t2 + 62} y1={rows[3] - 12} y2={rows[3] - 12} stroke="#000" strokeWidth={2.4} />

      {box(c1, rows[4], '#0000ff')}
      {t(t1, rows[4], 'charm')}
      {box(c2, rows[4], '#ff0000')}
      {t(t2, rows[4], 'uds')}
    </g>
  );
}

export default function App() {
  return (
    <svg
      width={1503}
      height={969}
      style={{ position: 'absolute', left: 0, top: 0, background: '#fff' }}
    >
      <rect x={0} y={0} width={1503} height={969} fill="#fff" />
      {zLabels.map((_, p) => (
        <Panel key={p} p={p} />
      ))}
      <Legend />
    </svg>
  );
}
